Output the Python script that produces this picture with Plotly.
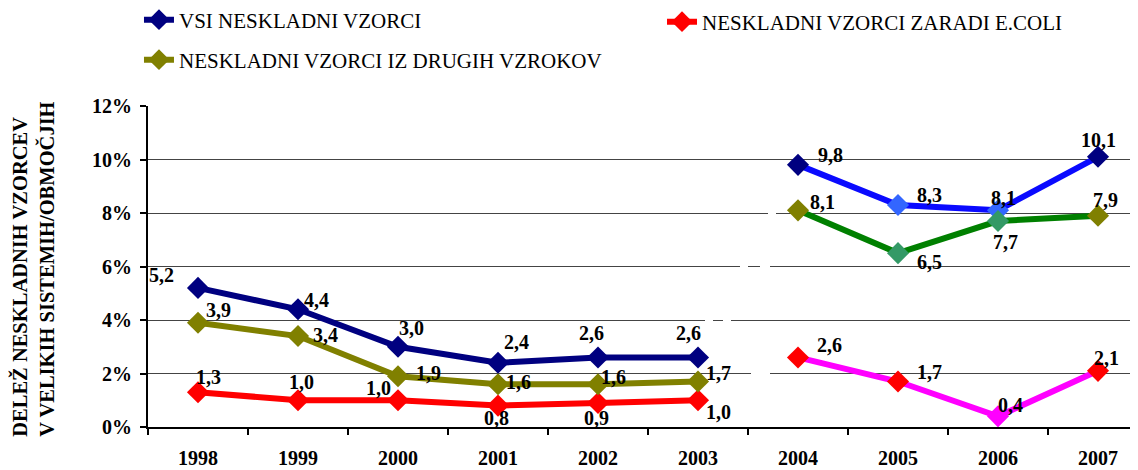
import plotly.graph_objects as go

years = ["1998", "1999", "2000", "2001", "2002", "2003", "2004", "2005", "2006", "2007"]
years_a = years[:6]
years_b = years[6:]

vsi_a = [5.2, 4.4, 3.0, 2.4, 2.6, 2.6]
vsi_b = [9.8, 8.3, 8.1, 10.1]
ecoli_a = [1.3, 1.0, 1.0, 0.8, 0.9, 1.0]
ecoli_b = [2.6, 1.7, 0.4, 2.1]
other_a = [3.9, 3.4, 1.9, 1.6, 1.6, 1.7]
other_b = [8.1, 6.5, 7.7, 7.9]

y_ticks = [0, 2, 4, 6, 8, 10, 12]
y_ticktext = ["0%", "2%", "4%", "6%", "8%", "10%", "12%"]

name_vsi = "VSI NESKLADNI VZORCI"
name_ecoli = "NESKLADNI VZORCI ZARADI E.COLI"
name_other = "NESKLADNI VZORCI IZ DRUGIH VZROKOV"
y_title = "DELEŽ NESKLADNIH VZORCEV<br>V VELIKIH SISTEMIH/OBMOČJIH"

FONT = "Liberation Serif"

# label offsets in pixels (dx right, dy down) relative to each marker
off_vsi_a = [(-37, -13), (18, -9), (13, -19), (18, -21), (-7, -24), (-10, -24)]
off_ecoli_a = [(10, -15), (3, -18), (-20, -12), (-2, 12), (-2, 15), (20, 12)]
off_other_a = [(20, -13), (27, -1), (30, -3), (20, -2), (15, -7), (20, -9)]
off_vsi_b = [(32, -10), (31, -10), (5, -12), (0, -17)]
off_other_b = [(24, -8), (31, 9), (7, 21), (7, -16)]
off_ecoli_b = [(31, -12), (31, -10), (12, -11), (8, -13)]


def lab(v):
    return f"{v:.1f}".replace(".", ",")


fig = go.Figure()


def add_series(x, y, line_color, marker_color, name=None, legend=None):
    fig.add_trace(go.Scatter(
        x=x, y=y, mode="lines+markers", name=name,
        showlegend=name is not None, legend=legend or "legend",
        line=dict(color=line_color, width=6),
        marker=dict(symbol="diamond", size=17, color=marker_color, line=dict(width=0)),
        hoverinfo="skip",
    ))


add_series(years_a, vsi_a, "#000080", "#000080", name_vsi, "legend")
add_series(years_a, ecoli_a, "#FF0000", "#FF0000", name_ecoli, "legend2")
add_series(years_a, other_a, "#808000", "#808000", name_other, "legend3")
add_series(years_b, vsi_b, "#0A0AFF", ["#000080", "#3366FF", "#3366FF", "#000080"])
add_series(years_b, other_b, "#008000", ["#808000", "#339966", "#339966", "#808000"])
add_series(years_b, ecoli_b, "#FF00FF", ["#FF0000", "#FF0000", "#FF00FF", "#FF0000"])

label_font = dict(family=FONT, size=20, color="black", weight="bold")
for xs, ys, offs in [(years_a, vsi_a, off_vsi_a), (years_a, ecoli_a, off_ecoli_a),
                     (years_a, other_a, off_other_a), (years_b, vsi_b, off_vsi_b),
                     (years_b, other_b, off_other_b), (years_b, ecoli_b, off_ecoli_b)]:
    for xv, yv, (dx, dy) in zip(xs, ys, offs):
        fig.add_annotation(x=years.index(xv), y=yv, xref="x", yref="y", text=lab(yv),
                           showarrow=False, xshift=dx, yshift=-dy, font=label_font,
                           xanchor="center", yanchor="middle")

# white breaks in gridlines between 2003 and 2004
gaps = [(8, 5.70, 5.78), (6, 5.42, 5.50), (6, 5.62, 5.72), (4, 5.07, 5.15), (4, 5.25, 5.33), (2, 5.53, 5.72)]
for gy, x0, x1 in gaps:
    fig.add_shape(type="rect", xref="x", yref="y", x0=x0, x1=x1, y0=gy - 0.1, y1=gy + 0.1,
                  fillcolor="white", line=dict(width=0), layer="between")

# rotated y-axis title
fig.add_annotation(text=y_title, xref="paper", yref="paper", x=-0.1152, y=0.49,
                   textangle=-90, showarrow=False, align="left",
                   font=dict(family=FONT, size=20.5, color="black", weight="bold"),
                   xanchor="center", yanchor="middle")

leg_common = dict(font=dict(family=FONT, size=21, color="black"), bgcolor="rgba(0,0,0,0)",
                  xref="container", yref="container", xanchor="left", yanchor="middle",
                  itemclick=False, itemdoubleclick=False)

fig.update_layout(
    width=1138, height=470,
    margin=dict(l=140, r=0, t=98, b=51, autoexpand=False),
    paper_bgcolor="white", plot_bgcolor="white",
    font=dict(family=FONT, color="black"),
    legend=dict(x=0.1151, y=1 - 12 / 470, **leg_common),
    legend2=dict(x=0.5747, y=1 - 14 / 470, **leg_common),
    legend3=dict(x=0.1151, y=1 - 52 / 470, **leg_common),
    xaxis=dict(
        type="category", range=[-0.5, 9.48], tickson="boundaries",
        ticks="outside", ticklen=6, tickwidth=2, tickcolor="black",
        showline=True, linecolor="black", linewidth=2, showgrid=False,
        tickfont=dict(family=FONT, size=20, color="black", weight="bold"),
        ticklabelstandoff=12, zeroline=False,
    ),
    yaxis=dict(
        range=[0, 12], tickmode="array", tickvals=y_ticks, ticktext=y_ticktext,
        ticks="outside", ticklen=6, tickwidth=2, tickcolor="black",
        showline=True, linecolor="black", linewidth=2,
        showgrid=True, gridcolor="#444444", gridwidth=1, zeroline=False,
        tickfont=dict(family=FONT, size=20, color="black", weight="bold"),
        ticklabelstandoff=4,
    ),
)

fig.write_html("out.html")
